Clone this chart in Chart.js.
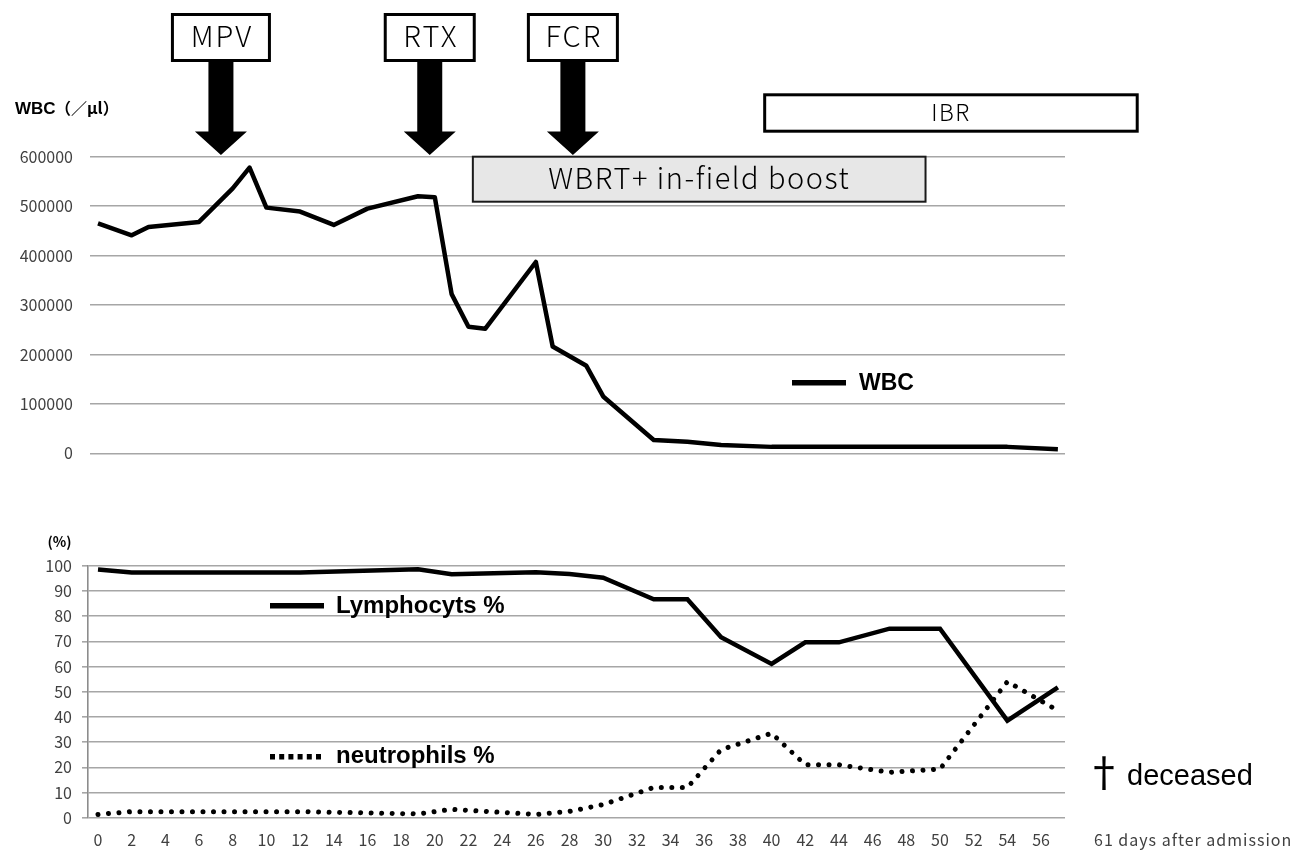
<!DOCTYPE html>
<html>
<head>
<meta charset="utf-8">
<script src="https://cdn.jsdelivr.net/npm/chart.js@4.4.0/dist/chart.umd.min.js"></script>
<style>
  html, body { margin: 0; padding: 0; background: #fff; }
  #wrap { position: relative; width: 1304px; height: 850px; }
  .box { position: absolute; left: 0; width: 1304px; }
</style>
</head>
<body>
<div id="wrap">
  <div class="box" style="top:0;height:480px"><canvas id="wbcChart"></canvas></div>
  <div class="box" style="top:470px;height:380px"><canvas id="pctChart"></canvas></div>
</div>
<script>
// days after admission, tick labels every 2 days
const xTicks = [0,2,4,6,8,10,12,14,16,18,20,22,24,26,28,30,32,34,36,38,40,42,44,46,48,50,52,54,56];

// WBC (/ul)
const wbcDays   = [0, 2, 3, 6, 8, 9, 10, 12, 14, 16, 19, 20, 21, 22, 23, 26, 27, 29, 30, 33, 35, 37, 40, 54, 57];
const wbcValues = [465000, 441000, 458000, 468000, 536000, 578000, 497000, 489000, 462000, 495000, 520000, 518000,
                   322000, 256000, 252000, 387000, 216000, 177000, 115000, 27000, 23500, 17000, 13000, 13000, 8000];

// differential (%)
const diffDays    = [0, 2, 12, 19, 21, 26, 28, 30, 33, 35, 37, 40, 42, 44, 47, 50, 54, 57];
const lymphValues = [98.5, 97.3, 97.3, 98.6, 96.6, 97.4, 96.7, 95.2, 86.7, 86.7, 71.6, 61, 69.6, 69.6, 75, 75, 38.5, 51.7];
const neutValues  = [1.3, 2.4, 2.4, 1.5, 3.3, 1.3, 2.5, 5.2, 12, 12, 27, 33.5, 21, 21, 18, 19.3, 54, 42.5];

// treatments
const drugNames = ['MPV', 'RTX', 'FCR'];
const drugDays  = [7.3, 19.7, 28.2];
const wbrtSpan  = [22.2, 49.2];
const ibrSpan   = [39.5, 61.8];

const pxPerDay = 16.84;
const xMax = (1065 - 98) / pxPerDay;
const tickFont = { family: "'Noto Sans CJK JP', 'Noto Sans', sans-serif", size: 16 };
const gridCol = '#a6a6a6';
const jpFont = "'Noto Sans CJK JP', 'Noto Sans', sans-serif";

const toPts = (xs, ys) => xs.map((d, i) => ({ x: d, y: ys[i] }));

function arrow(ctx, cx, top, tip) {
  ctx.beginPath();
  ctx.moveTo(cx - 12.5, top);
  ctx.lineTo(cx + 12.5, top);
  ctx.lineTo(cx + 12.5, tip - 23.5);
  ctx.lineTo(cx + 26, tip - 23.5);
  ctx.lineTo(cx, tip);
  ctx.lineTo(cx - 26, tip - 23.5);
  ctx.lineTo(cx - 12.5, tip - 23.5);
  ctx.closePath();
  ctx.fill();
}

const topExtras = {
  id: 'topExtras',
  afterDraw(chart) {
    const ctx = chart.ctx, x = chart.scales.x;
    ctx.save();
    ctx.fillStyle = '#000';
    ctx.strokeStyle = '#000';
    ctx.textAlign = 'center';
    ctx.font = '300 29px ' + jpFont;
    ctx.letterSpacing = '2px';
    drugNames.forEach((name, i) => {
      const cx = x.getPixelForValue(drugDays[i]);
      const w = name === 'MPV' ? 97 : 89;
      ctx.lineWidth = 3;
      ctx.fillStyle = '#fff';
      ctx.fillRect(cx - w / 2, 14.5, w, 46);
      ctx.strokeRect(cx - w / 2, 14.5, w, 46);
      ctx.fillStyle = '#000';
      ctx.fillText(name, cx + 1, 47);
      arrow(ctx, cx, 62, 155);
    });

    // WBRT box
    let l = x.getPixelForValue(wbrtSpan[0]), r = x.getPixelForValue(wbrtSpan[1]);
    ctx.fillStyle = '#e7e7e7';
    ctx.fillRect(l + 1, 156.7, r - l - 2, 45);
    ctx.lineWidth = 2;
    ctx.strokeStyle = '#1a1a1a';
    ctx.strokeRect(l + 1, 156.7, r - l - 2, 45);
    ctx.fillStyle = '#000';
    ctx.font = '300 29px ' + jpFont;
    ctx.letterSpacing = '1.5px';
    ctx.fillText('WBRT+ in-field boost', (l + r) / 2, 188.5);

    // IBR box
    l = x.getPixelForValue(ibrSpan[0]); r = x.getPixelForValue(ibrSpan[1]);
    ctx.fillStyle = '#fff';
    ctx.lineWidth = 3;
    ctx.strokeStyle = '#000';
    ctx.fillRect(l + 1.5, 94.8, r - l - 3, 36.4);
    ctx.strokeRect(l + 1.5, 94.8, r - l - 3, 36.4);
    ctx.fillStyle = '#000';
    ctx.font = '300 23px ' + jpFont;
    ctx.letterSpacing = '1.5px';
    ctx.fillText('IBR', (l + r) / 2, 121);

    // axis title
    ctx.letterSpacing = '0px';
    ctx.textAlign = 'left';
    ctx.font = "bold 17px 'Liberation Sans', Arial, sans-serif";
    ctx.fillText('WBC', 15, 114);
    ctx.font = 'bold 16px ' + jpFont;
    ctx.fillText('（／μl）', 55, 114);

    // legend
    ctx.lineWidth = 5.5;
    ctx.beginPath();
    ctx.moveTo(792, 382.7);
    ctx.lineTo(846, 382.7);
    ctx.stroke();
    ctx.font = "bold 23px 'Liberation Sans', Arial, sans-serif";
    ctx.fillText('WBC', 859, 390);
    ctx.restore();
  }
};

const bottomExtras = {
  id: 'bottomExtras',
  afterDraw(chart) {
    const ctx = chart.ctx;
    ctx.save();
    ctx.fillStyle = '#000';
    ctx.strokeStyle = '#000';
    ctx.font = "bold 14px " + jpFont;
    ctx.textAlign = 'center';
    ctx.fillText('(%)', 59.5, 77);

    ctx.textAlign = 'left';
    ctx.lineWidth = 5.5;
    ctx.beginPath();
    ctx.moveTo(270, 135.7);
    ctx.lineTo(324, 135.7);
    ctx.stroke();
    ctx.setLineDash([5, 4.2]);
    ctx.beginPath();
    ctx.moveTo(270, 286.7);
    ctx.lineTo(325, 286.7);
    ctx.stroke();
    ctx.setLineDash([]);
    ctx.font = "bold 24px 'Liberation Sans', Arial, sans-serif";
    ctx.fillText('Lymphocyts %', 336, 143.3);
    ctx.fillText('neutrophils %', 336, 293.3);

    ctx.font = '40px ' + jpFont;
    ctx.fillText('†', 1084, 317);
    ctx.font = "29px 'Liberation Sans', Arial, sans-serif";
    ctx.fillText('deceased', 1127, 315);

    ctx.fillStyle = '#404040';
    ctx.font = '16px ' + jpFont;
    ctx.letterSpacing = '1px';
    ctx.fillText('61 days after admission', 1094, 376);
    ctx.restore();
  }
};

new Chart(document.getElementById('wbcChart'), {
  type: 'line',
  data: {
    datasets: [{
      label: 'WBC',
      data: toPts(wbcDays, wbcValues),
      borderColor: '#000',
      borderWidth: 4.5,
      pointRadius: 0,
      tension: 0,
      borderJoinStyle: 'round'
    }]
  },
  options: {
    responsive: true,
    maintainAspectRatio: false,
    animation: false,
    layout: { padding: { top: 156.7, right: 239, bottom: 26.7, left: 0 } },
    plugins: { legend: { display: false }, tooltip: { enabled: false } },
    scales: {
      x: {
        type: 'linear',
        display: false,
        min: (90 - 98) / pxPerDay,
        max: xMax
      },
      y: {
        min: 0,
        max: 600000,
        afterFit: s => { s.width = 90; s.paddingTop = 0; s.paddingBottom = 0; },
        ticks: { stepSize: 100000, font: tickFont, color: '#404040', padding: 17, callback: v => String(v) },
        grid: { color: gridCol, lineWidth: 1.6, drawTicks: false },
        border: { display: false }
      }
    }
  },
  plugins: [topExtras]
});

new Chart(document.getElementById('pctChart'), {
  type: 'line',
  data: {
    datasets: [{
      label: 'Lymphocyts %',
      data: toPts(diffDays, lymphValues),
      borderColor: '#000',
      borderWidth: 4.5,
      pointRadius: 0,
      tension: 0
    }, {
      label: 'neutrophils %',
      data: toPts(diffDays, neutValues),
      borderColor: '#000',
      borderWidth: 5,
      borderDash: [0.01, 10.5],
      borderCapStyle: 'round',
      pointRadius: 0,
      tension: 0
    }]
  },
  options: {
    responsive: true,
    maintainAspectRatio: false,
    animation: false,
    layout: { padding: { top: 95.7, right: 239, bottom: 0, left: 0 } },
    plugins: { legend: { display: false }, tooltip: { enabled: false } },
    scales: {
      x: {
        type: 'linear',
        min: (88 - 98) / pxPerDay,
        max: xMax,
        afterFit: s => { s.height = 32.3; },
        afterBuildTicks: s => { s.ticks = xTicks.map(v => ({ value: v })); },
        ticks: { font: tickFont, color: '#404040', padding: 5, maxRotation: 0, autoSkip: false },
        grid: { display: false },
        border: { display: false }
      },
      y: {
        min: 0,
        max: 100,
        afterFit: s => { s.width = 88; },
        ticks: { stepSize: 10, font: tickFont, color: '#404040', padding: 10 },
        grid: { color: gridCol, lineWidth: 1.6, tickLength: 6 },
        border: { color: '#8c8c8c', width: 1.6 }
      }
    }
  },
  plugins: [bottomExtras]
});
</script>
</body>
</html>
